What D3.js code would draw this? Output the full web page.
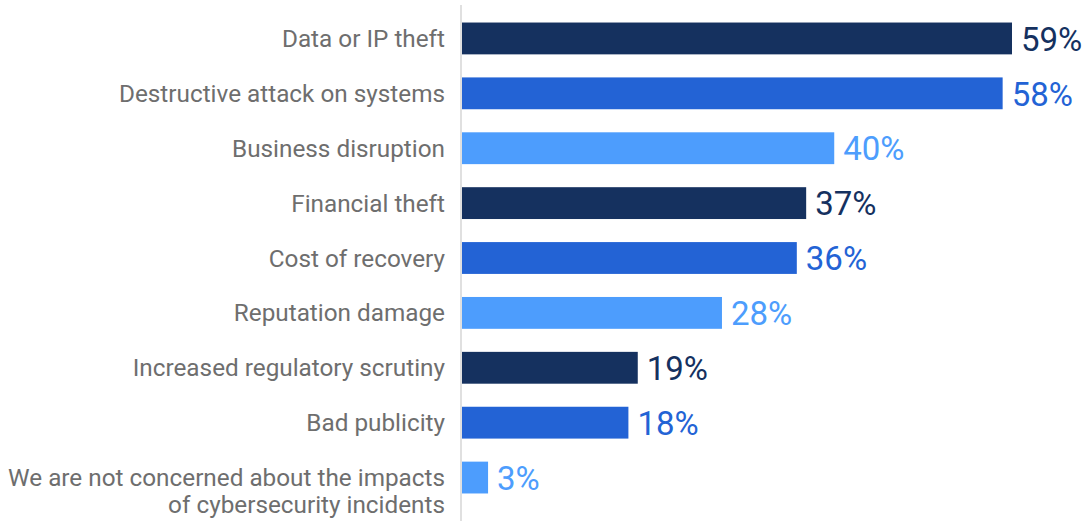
<!DOCTYPE html>
<html>
<head>
<meta charset="utf-8">
<script src="https://cdn.jsdelivr.net/npm/d3@7"></script>
<style>
  html, body { margin: 0; padding: 0; background: #ffffff; }
  svg { display: block; }
</style>
</head>
<body>
<div id="chart"></div>
<script>
// Impacts of cybersecurity incidents, share of respondents
const categories = [
  "Data or IP theft",
  "Destructive attack on systems",
  "Business disruption",
  "Financial theft",
  "Cost of recovery",
  "Reputation damage",
  "Increased regulatory scrutiny",
  "Bad publicity",
  "We are not concerned about the impacts\nof cybersecurity incidents"
];
const values = [59, 58, 40, 37, 36, 28, 19, 18, 3];
const palette = ["#15315f", "#2363d5", "#4d9dfd"];

const width = 1087, height = 521;
const axisX = 460;

const svg = d3.select("#chart").append("svg")
  .attr("width", width)
  .attr("height", height);

const x = d3.scaleLinear()
  .domain([0, 59])
  .range([axisX, 1012]);

const y = d3.scaleBand()
  .domain(categories)
  .range([11, 505])
  .paddingInner(0.42)
  .paddingOuter(0.21);

const colorOf = i => palette[i % 3];

// bars
svg.append("g")
  .selectAll("rect")
  .data(values)
  .join("rect")
  .attr("x", x(0))
  .attr("y", (d, i) => y(categories[i]))
  .attr("width", d => x(d) - x(0))
  .attr("height", y.bandwidth())
  .attr("fill", (d, i) => colorOf(i));

// value labels
svg.append("g")
  .selectAll("text")
  .data(values)
  .join("text")
  .attr("x", d => x(d) + 9)
  .attr("y", (d, i) => y(categories[i]) + y.bandwidth() / 2)
  .attr("dy", "0.37em")
  .attr("fill", (d, i) => colorOf(i))
  .style("font-family", "Roboto, sans-serif")
  .style("font-size", "33px")
  .text(d => d + "%");

// category labels; a wrapped label keeps its first line on the bar
const labels = svg.append("g")
  .selectAll("text")
  .data(categories)
  .join("text")
  .attr("x", axisX - 15)
  .attr("y", d => y(d) + y.bandwidth() / 2)
  .attr("text-anchor", "end")
  .attr("fill", "#6e6e6e")
  .style("font-family", "Roboto, sans-serif")
  .style("font-size", "24.3px");

labels.each(function(d) {
  const lines = d.split("\n");
  const t = d3.select(this);
  const lh = 27;
  lines.forEach((line, k) => {
    t.append("tspan")
      .attr("x", axisX - 15)
      .attr("y", y(d) + y.bandwidth() / 2 + k * lh)
      .attr("dy", "0.35em")
      .text(line);
  });
});

// vertical baseline
svg.append("line")
  .attr("x1", axisX + 1).attr("x2", axisX + 1)
  .attr("y1", 5).attr("y2", height)
  .attr("stroke", "#e0e0e0")
  .attr("stroke-width", 2);
</script>
</body>
</html>
